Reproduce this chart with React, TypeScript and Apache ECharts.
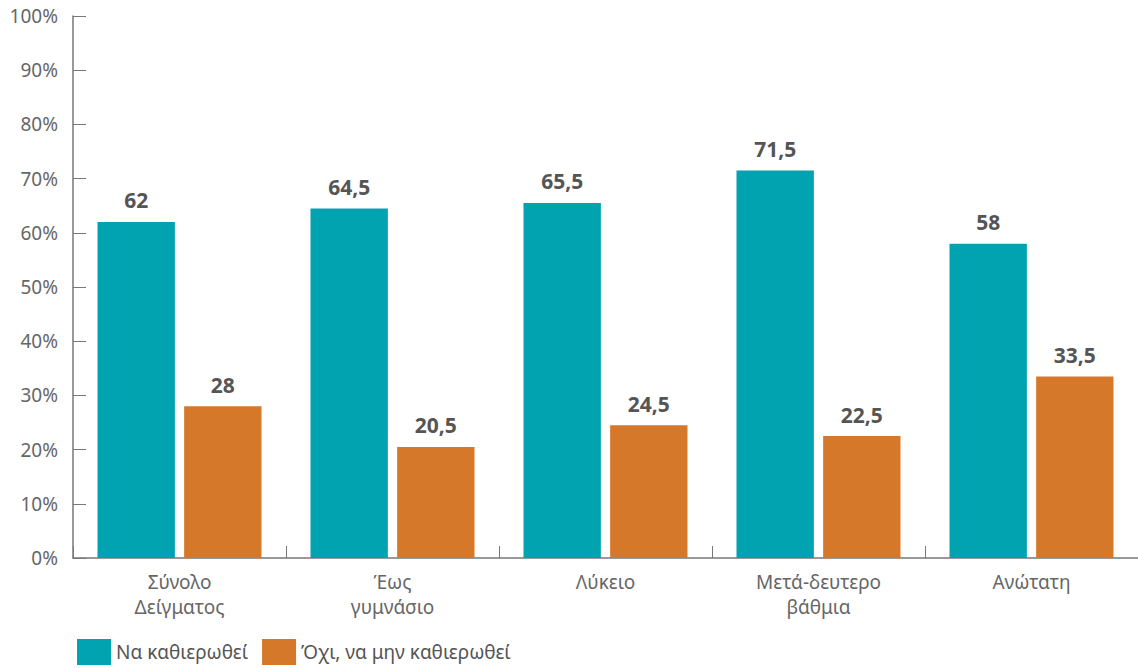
import React, { useEffect, useRef } from "react";
import * as echarts from "echarts";

const categories = ["Σύνολο\nΔείγματος", "Έως\nγυμνάσιο", "Λύκειο", "Μετά-δευτερο\nβάθμια", "Ανώτατη"];
const seriesNames = ["Να καθιερωθεί", "Όχι, να μην καθιερωθεί"];
const yesValues = [62, 64.5, 65.5, 71.5, 58];
const noValues = [28, 20.5, 24.5, 22.5, 33.5];
const colors = ["#00A3AF", "#D5782A"];

const fmt = (v: number) => String(v).replace(".", ",");

export default function App() {
  const ref = useRef<HTMLDivElement>(null);
  useEffect(() => {
    if (!ref.current) return;
    const chart = echarts.init(ref.current, undefined, { renderer: "svg" });
    const font = "'Noto Sans', 'Open Sans', sans-serif";
    const label = {
      show: true,
      position: "top" as const,
      distance: 11,
      color: "#555",
      fontWeight: "bold" as const,
      fontSize: 21,
      fontFamily: font,
      formatter: (p: any) => fmt(p.value),
    };
    chart.setOption({
      animation: false,
      textStyle: { fontFamily: font },
      grid: { left: 73, right: 0, top: 16, bottom: 110, containLabel: false },
      legend: {
        left: 77,
        top: 639,
        padding: 0,
        itemWidth: 34,
        itemHeight: 26,
        itemGap: 14,
        icon: "rect",
        textStyle: { fontSize: 19, color: "#555", fontFamily: font },
        data: seriesNames,
      },
      xAxis: {
        type: "category",
        data: categories,
        axisLine: { lineStyle: { color: "#777", width: 1.5 } },
        axisTick: { show: true, inside: true, length: 12, lineStyle: { color: "#777" } },
        axisLabel: { fontSize: 19, color: "#666", lineHeight: 25, margin: 11, fontFamily: font },
      },
      yAxis: {
        type: "value",
        min: 0,
        max: 100,
        interval: 10,
        splitLine: { show: false },
        axisLine: { show: true, lineStyle: { color: "#777", width: 1.5 } },
        axisTick: { show: true, inside: true, length: 13, lineStyle: { color: "#777" } },
        axisLabel: { fontSize: 19, color: "#666", margin: 15, formatter: "{value}%", fontFamily: font },
      },
      series: [
        {
          name: seriesNames[0],
          type: "bar",
          data: yesValues,
          itemStyle: { color: colors[0] },
          barGap: "12%",
          barCategoryGap: "23%",
          label,
        },
        {
          name: seriesNames[1],
          type: "bar",
          data: noValues,
          itemStyle: { color: colors[1] },
          barGap: "12%",
          barCategoryGap: "23%",
          label,
        },
      ],
    });
    return () => chart.dispose();
  }, []);
  return <div ref={ref} style={{ width: 1138, height: 668, position: "absolute", left: 0, top: 0 }} />;
}
